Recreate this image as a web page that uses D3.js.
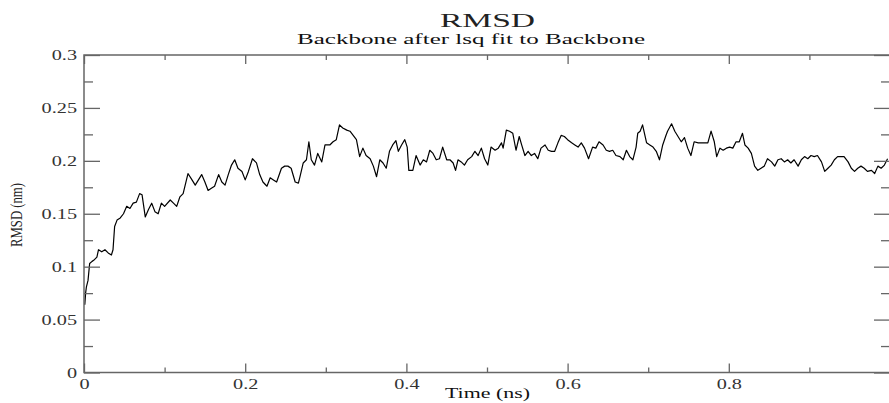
<!DOCTYPE html>
<html>
<head>
<meta charset="utf-8">
<script src="https://cdn.jsdelivr.net/npm/d3@7"></script>
<style>
  body { margin: 0; background: #fff; }
  svg { display: block; }
</style>
</head>
<body>
<div id="chart"></div>
<script>
// Time (ns)
const timeNs = [
  0.001, 0.002, 0.003, 0.005, 0.007, 0.010, 0.012, 0.016, 0.018, 0.022,
  0.026, 0.030, 0.034, 0.036, 0.038, 0.041, 0.045, 0.049, 0.053, 0.057,
  0.061, 0.065, 0.069, 0.072, 0.076, 0.080, 0.084, 0.088, 0.092, 0.096,
  0.100, 0.107, 0.111, 0.115, 0.119, 0.123, 0.129, 0.134, 0.138, 0.142,
  0.146, 0.150, 0.154, 0.158, 0.162, 0.167, 0.171, 0.175, 0.179, 0.183,
  0.187, 0.191, 0.196, 0.200, 0.204, 0.209, 0.214, 0.218, 0.222, 0.227,
  0.231, 0.235, 0.239, 0.245, 0.249, 0.253, 0.257, 0.262, 0.266, 0.268,
  0.272, 0.276, 0.279, 0.282, 0.286, 0.290, 0.295, 0.299, 0.305, 0.309,
  0.313, 0.317, 0.321, 0.326, 0.330, 0.334, 0.338, 0.342, 0.346, 0.350,
  0.355, 0.359, 0.363, 0.367, 0.371, 0.375, 0.379, 0.383, 0.387, 0.390,
  0.394, 0.398, 0.401, 0.403, 0.408, 0.412, 0.417, 0.421, 0.425, 0.429,
  0.433, 0.437, 0.441, 0.445, 0.450, 0.454, 0.458, 0.461, 0.464, 0.468,
  0.472, 0.476, 0.481, 0.485, 0.489, 0.493, 0.497, 0.501, 0.505, 0.510,
  0.514, 0.518, 0.520, 0.524, 0.528, 0.532, 0.536, 0.540, 0.543, 0.547,
  0.551, 0.555, 0.559, 0.563, 0.567, 0.572, 0.576, 0.580, 0.584, 0.588,
  0.592, 0.596, 0.600, 0.605, 0.609, 0.613, 0.617, 0.621, 0.626, 0.631,
  0.635, 0.639, 0.644, 0.648, 0.652, 0.656, 0.660, 0.665, 0.669, 0.673,
  0.677, 0.681, 0.685, 0.687, 0.690, 0.693, 0.698, 0.702, 0.706, 0.710,
  0.714, 0.718, 0.722, 0.724, 0.729, 0.733, 0.737, 0.741, 0.745, 0.749,
  0.753, 0.757, 0.762, 0.766, 0.770, 0.774, 0.778, 0.782, 0.785, 0.789,
  0.793, 0.797, 0.801, 0.805, 0.809, 0.813, 0.817, 0.820, 0.824, 0.828,
  0.832, 0.836, 0.840, 0.844, 0.848, 0.853, 0.857, 0.861, 0.865, 0.869,
  0.873, 0.877, 0.881, 0.886, 0.890, 0.894, 0.898, 0.902, 0.906, 0.910,
  0.915, 0.919, 0.923, 0.927, 0.931, 0.935, 0.939, 0.943, 0.948, 0.952,
  0.956, 0.960, 0.964, 0.968, 0.972, 0.977, 0.981, 0.985, 0.989, 0.993,
  0.997
];

// RMSD (nm) at each time above
const rmsdNm = [
  0.064, 0.075, 0.081, 0.087, 0.103, 0.105, 0.106, 0.109, 0.116, 0.114,
  0.116, 0.113, 0.111, 0.116, 0.138, 0.144, 0.146, 0.150, 0.157, 0.155,
  0.160, 0.161, 0.169, 0.168, 0.147, 0.154, 0.160, 0.152, 0.150, 0.160,
  0.157, 0.163, 0.160, 0.157, 0.166, 0.169, 0.188, 0.182, 0.177, 0.182,
  0.187, 0.180, 0.172, 0.174, 0.176, 0.187, 0.180, 0.177, 0.187, 0.196,
  0.201, 0.193, 0.190, 0.182, 0.190, 0.202, 0.198, 0.187, 0.180, 0.176,
  0.184, 0.182, 0.180, 0.193, 0.195, 0.195, 0.193, 0.180, 0.179, 0.185,
  0.198, 0.201, 0.218, 0.201, 0.196, 0.207, 0.199, 0.215, 0.215, 0.218,
  0.220, 0.234, 0.231, 0.229, 0.228, 0.224, 0.220, 0.204, 0.212, 0.205,
  0.202, 0.195, 0.185, 0.201, 0.198, 0.193, 0.209, 0.215, 0.219, 0.209,
  0.215, 0.220, 0.213, 0.191, 0.191, 0.205, 0.196, 0.201, 0.199, 0.210,
  0.207, 0.201, 0.202, 0.213, 0.201, 0.201, 0.198, 0.191, 0.201, 0.199,
  0.196, 0.201, 0.204, 0.209, 0.205, 0.212, 0.202, 0.196, 0.213, 0.210,
  0.212, 0.217, 0.212, 0.229, 0.228, 0.226, 0.210, 0.223, 0.215, 0.205,
  0.209, 0.205, 0.207, 0.202, 0.212, 0.215, 0.210, 0.209, 0.209, 0.217,
  0.224, 0.223, 0.220, 0.217, 0.215, 0.213, 0.217, 0.212, 0.202, 0.213,
  0.212, 0.218, 0.215, 0.210, 0.209, 0.210, 0.205, 0.204, 0.201, 0.210,
  0.204, 0.201, 0.213, 0.226, 0.228, 0.234, 0.217, 0.215, 0.213, 0.209,
  0.201, 0.215, 0.224, 0.228, 0.235, 0.228, 0.223, 0.218, 0.222, 0.212,
  0.205, 0.218, 0.217, 0.217, 0.217, 0.217, 0.228, 0.218, 0.204, 0.212,
  0.210, 0.212, 0.213, 0.212, 0.218, 0.218, 0.226, 0.215, 0.212, 0.207,
  0.195, 0.191, 0.193, 0.195, 0.202, 0.199, 0.195, 0.201, 0.202, 0.199,
  0.201, 0.198, 0.201, 0.195, 0.201, 0.204, 0.202, 0.205, 0.204, 0.205,
  0.199, 0.190, 0.193, 0.196, 0.201, 0.204, 0.204, 0.204, 0.199, 0.193,
  0.190, 0.193, 0.195, 0.193, 0.190, 0.191, 0.188, 0.195, 0.193, 0.196,
  0.202
];

const xMajorTicks = [0, 0.2, 0.4, 0.6, 0.8];
const xMinorTicks = [0.1, 0.3, 0.5, 0.7, 0.9];
const yMajorTicks = [0, 0.05, 0.1, 0.15, 0.2, 0.25, 0.3];
const yMinorTicks = [0.025, 0.075, 0.125, 0.175, 0.225, 0.275];

const width = 889, height = 403;
const margin = { top: 55, right: -1, bottom: 30.5, left: 84 };
const axisColor = "#666";
const serif = "'Liberation Serif', 'Times New Roman', serif";

const svg = d3.select("#chart")
  .append("svg")
  .attr("width", width)
  .attr("height", height);

const x = d3.scaleLinear()
  .domain([0, 1])
  .range([margin.left, width - margin.right]);

const y = d3.scaleLinear()
  .domain([0, 0.3])
  .range([height - margin.bottom, margin.top]);

const points = timeNs.map((t, i) => ({ t: t, v: rmsdNm[i] }));

// data line
svg.append("path")
  .datum(points)
  .attr("fill", "none")
  .attr("stroke", "#000")
  .attr("stroke-width", 1.2)
  .attr("stroke-linejoin", "round")
  .attr("d", d3.line().x(d => x(d.t)).y(d => y(d.v)));

// the reference text is stretched sideways, so widen each label
function widen(sel, k) {
  sel.each(function () {
    const w = this.getComputedTextLength();
    d3.select(this)
      .attr("textLength", w * k)
      .attr("lengthAdjust", "spacingAndGlyphs");
  });
}

function styleAxis(g, labels) {
  g.select(".domain").remove();
  g.selectAll(".tick line").attr("stroke", axisColor).attr("stroke-width", 1.3);
  if (!labels) {
    g.selectAll(".tick text").remove();
    return;
  }
  g.selectAll(".tick text")
    .attr("fill", "#333")
    .attr("font-family", serif)
    .attr("font-size", 15)
    .call(widen, 1.35);
}

// bottom
svg.append("g")
  .attr("transform", `translate(0,${y(0)})`)
  .call(d3.axisBottom(x).tickValues(xMajorTicks).tickSize(-9).tickPadding(6)
    .tickFormat(d3.format("")))
  .call(g => styleAxis(g, true));
svg.append("g")
  .attr("transform", `translate(0,${y(0)})`)
  .call(d3.axisBottom(x).tickValues(xMinorTicks).tickSize(-5))
  .call(g => styleAxis(g, false));

// top
svg.append("g")
  .attr("transform", `translate(0,${y(0.3)})`)
  .call(d3.axisTop(x).tickValues(xMajorTicks).tickSize(-9))
  .call(g => styleAxis(g, false));
svg.append("g")
  .attr("transform", `translate(0,${y(0.3)})`)
  .call(d3.axisTop(x).tickValues(xMinorTicks).tickSize(-5))
  .call(g => styleAxis(g, false));

// left
svg.append("g")
  .attr("transform", `translate(${x(0)},0)`)
  .call(d3.axisLeft(y).tickValues(yMajorTicks).tickSize(-16).tickPadding(7)
    .tickFormat(d3.format("")))
  .call(g => styleAxis(g, true));
svg.append("g")
  .attr("transform", `translate(${x(0)},0)`)
  .call(d3.axisLeft(y).tickValues(yMinorTicks).tickSize(-9))
  .call(g => styleAxis(g, false));

// right
svg.append("g")
  .attr("transform", `translate(${x(1)},0)`)
  .call(d3.axisRight(y).tickValues(yMajorTicks).tickSize(-16))
  .call(g => styleAxis(g, false));
svg.append("g")
  .attr("transform", `translate(${x(1)},0)`)
  .call(d3.axisRight(y).tickValues(yMinorTicks).tickSize(-9))
  .call(g => styleAxis(g, false));

// frame
svg.append("rect")
  .attr("x", x(0))
  .attr("y", y(0.3))
  .attr("width", x(1) - x(0))
  .attr("height", y(0) - y(0.3))
  .attr("fill", "none")
  .attr("stroke", axisColor)
  .attr("stroke-width", 1.5);

// titles
svg.append("text")
  .attr("x", 440)
  .attr("y", 27)
  .attr("font-family", serif)
  .attr("font-size", 19)
  .attr("fill", "#222")
  .attr("textLength", 95)
  .attr("lengthAdjust", "spacingAndGlyphs")
  .text("RMSD");

svg.append("text")
  .attr("x", 297)
  .attr("y", 44)
  .attr("font-family", serif)
  .attr("font-size", 15)
  .attr("fill", "#111")
  .attr("textLength", 348)
  .attr("lengthAdjust", "spacingAndGlyphs")
  .text("Backbone after lsq fit to Backbone");

svg.append("text")
  .attr("x", 445)
  .attr("y", 398)
  .attr("font-family", serif)
  .attr("font-size", 14)
  .attr("fill", "#111")
  .attr("textLength", 85)
  .attr("lengthAdjust", "spacingAndGlyphs")
  .text("Time (ns)");

svg.append("text")
  .attr("transform", "translate(22,247) rotate(-90)")
  .attr("font-family", serif)
  .attr("font-size", 17)
  .attr("fill", "#222")
  .attr("textLength", 64)
  .attr("lengthAdjust", "spacingAndGlyphs")
  .text("RMSD (nm)");
</script>
</body>
</html>
